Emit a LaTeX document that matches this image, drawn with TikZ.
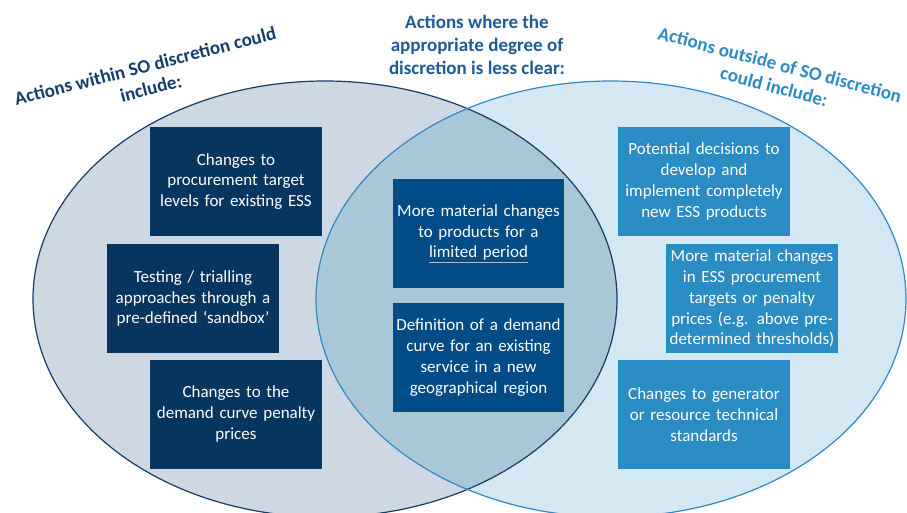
\documentclass[tikz,border=0pt]{standalone}
\usepackage{fontspec}
\setmainfont{Carlito}
\definecolor{lfill}{HTML}{CDD8E2}
\definecolor{rfill}{HTML}{D3E8F2}
\definecolor{ofill}{HTML}{AAC7D8}
\definecolor{lline}{HTML}{173C66}
\definecolor{rline}{HTML}{2F8AC4}
\definecolor{lboxc}{HTML}{06355F}
\definecolor{cboxc}{HTML}{014B87}
\definecolor{rboxc}{HTML}{2B8BC3}
\definecolor{ltitle}{HTML}{163E6A}
\definecolor{ctitle}{HTML}{1F5B98}
\definecolor{rtitle}{HTML}{2E8BC4}
\definecolor{ulc}{HTML}{A9BED3}
\newcommand\greyul[1]{\textcolor{ulc}{\underline{\textcolor{white}{#1}}}}
\begin{document}
\begin{tikzpicture}[x=1pt,y=-1pt,
  box/.style={inner sep=0pt, minimum width=172pt, minimum height=109pt,
    text width=170pt, align=center, text=white,
    font=\fontsize{17}{20.8}\selectfont},
  lbox/.style={box, fill=lboxc},
  cbox/.style={box, fill=cboxc},
  rbox/.style={box, fill=rboxc},
  titletext/.style={font=\bfseries\fontsize{19}{22.8}\selectfont, align=center, inner sep=0pt}]
\useasboundingbox (0,0) rectangle (907,512);
\clip (0,0) rectangle (907,512);
\fill[white] (0,0) rectangle (907,512);
% ellipses
\fill[lfill] (325,299) ellipse [x radius=292, y radius=218];
\fill[rfill] (611,299) ellipse [x radius=295, y radius=218];
\begin{scope}
  \clip (325,299) ellipse [x radius=292, y radius=218];
  \fill[ofill] (611,299) ellipse [x radius=295, y radius=218];
\end{scope}
\draw[lline, line width=1.2pt] (325,299) ellipse [x radius=292, y radius=218];
\draw[rline, line width=1.2pt] (611,299) ellipse [x radius=295, y radius=218];
% titles
\node[titletext, text=ltitle, rotate=14.3] (tl) at (148,77) {Actions within SO discretion could\\include:};
\node[titletext, text=ctitle] (tc) at (477,45) {Actions where the\\appropriate degree of\\discretion is less clear:};
\node[titletext, text=rtitle, rotate=-14.7] (tr) at (777,75.5) {Actions outside of SO discretion\\could include:};
% left boxes
\node[lbox] (l1) at (236,181.5) {Changes to\\procurement target\\levels for existing ESS};
\node[lbox] (l2) at (193,298.5) {Testing / trialling\\approaches through a\\pre-defined ‘sandbox’};
\node[lbox] (l3) at (236,414) {Changes to the\\demand curve penalty\\prices};
% centre boxes
\node[cbox, minimum width=171pt] (c1) at (478.5,233.5) {More material changes\\to products for a\\\greyul{limited period}};
\node[cbox, minimum width=171pt] (c2) at (478.5,357.5) {Definition of a demand\\curve for an existing\\service in a new\\geographical region};
% right boxes
\node[rbox] (r1) at (704,181.5) {Potential decisions to\\develop and\\implement completely\\new ESS products};
\node[rbox] (r2) at (752,298.5) {More material changes\\in ESS procurement\\targets or penalty\\prices (e.g. above pre-\\determined thresholds)};
\node[rbox] (r3) at (704,414.5) {Changes to generator\\or resource technical\\standards};
\end{tikzpicture}
\end{document}
